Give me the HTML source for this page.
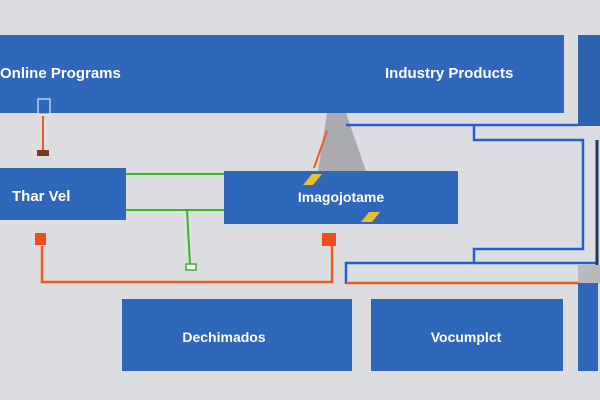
<!DOCTYPE html>
<html><head><meta charset="utf-8"><style>
body{margin:0;background:#dcdde0;}
svg{display:block;font-family:"Liberation Sans",sans-serif;}
</style></head><body>
<svg width="600" height="400" viewBox="0 0 600 400">
<rect width="600" height="400" fill="#dcdde0"/>
<rect x="0" y="35" width="564" height="78" fill="#2f67bb"/>
<text x="0" y="78" fill="#fff" font-size="15" font-weight="bold">Online Programs</text>
<text x="385" y="78" fill="#fff" font-size="15" font-weight="bold">Industry Products</text>
<rect x="578" y="35" width="22" height="91" fill="#2d62b0"/>
<rect x="38" y="99" width="12" height="15" fill="#2f67bb" stroke="#fff" stroke-width="1"/>
<line x1="43" y1="116" x2="43" y2="151" stroke="#f05a22" stroke-width="2"/>
<rect x="37" y="150" width="12" height="6" fill="#7a3a1e"/>
<polygon points="327,113 346,113 366,171 318,171" fill="#a9abaf"/>
<line x1="327" y1="131" x2="314" y2="168" stroke="#f05a22" stroke-width="2"/>
<path d="M346 125 H578 M474 125 V140 H583 V249 H474 V263 M346 284 V263 H597" fill="none" stroke="#2260d0" stroke-width="2.5"/>
<line x1="597" y1="140" x2="597" y2="265" stroke="#1f3b5e" stroke-width="3"/>
<rect x="578" y="265" width="22" height="18" fill="#b9babd"/>
<rect x="0" y="168" width="126" height="52" fill="#2f67bb"/>
<text x="12" y="201" fill="#fff" font-size="15" font-weight="bold">Thar Vel</text>
<rect x="224" y="171" width="234" height="53" fill="#2f67bb"/>
<text x="341" y="202" fill="#fff" font-size="14" font-weight="bold" text-anchor="middle">Imagojotame</text>
<polygon points="303,185 312,174 322,174 313,185" fill="#e8c02c"/>
<polygon points="361,222 369,212 380,212 372,222" fill="#e8c02c"/>
<path d="M126 174 H224 M126 210 H224 M187 210 L190 265" fill="none" stroke="#3db32a" stroke-width="2"/>
<rect x="186" y="264" width="10" height="6" fill="#fff" stroke="#3db32a" stroke-width="1.5"/>
<path d="M42 246 V282 H332 V246 M346 283 H578" fill="none" stroke="#f05a22" stroke-width="2.5"/>
<rect x="35" y="233" width="11" height="12" fill="#f04e1c"/>
<rect x="322" y="233" width="14" height="13" fill="#f04e1c"/>
<rect x="122" y="299" width="230" height="72" fill="#2f67bb"/>
<text x="224" y="342" fill="#fff" font-size="14" font-weight="bold" text-anchor="middle">Dechimados</text>
<rect x="371" y="299" width="192" height="72" fill="#2f67bb"/>
<text x="466" y="342" fill="#fff" font-size="14" font-weight="bold" text-anchor="middle">Vocumplct</text>
<rect x="578" y="283" width="20" height="88" fill="#2f67bb"/>
</svg>
</body></html>
